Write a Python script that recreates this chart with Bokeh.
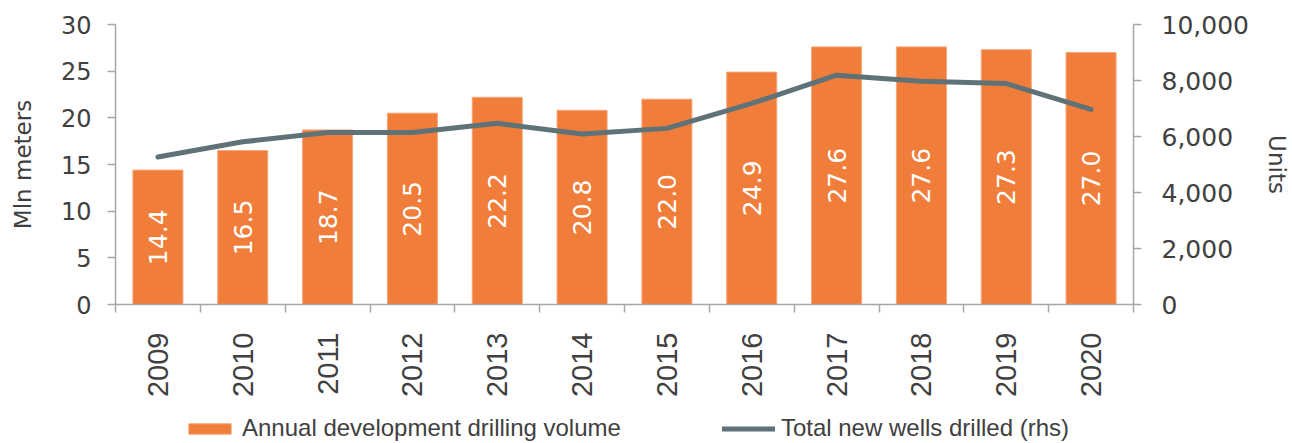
import math
from bokeh.plotting import figure
from bokeh.layouts import column
from bokeh.models import (ColumnDataSource, Range1d, LinearAxis, FixedTicker,
                          NumeralTickFormatter, Legend, LegendItem)
from bokeh.core.properties import value
from bokeh.embed import file_html
from bokeh.resources import INLINE

# ---- data ----
years = ["2009", "2010", "2011", "2012", "2013", "2014",
         "2015", "2016", "2017", "2018", "2019", "2020"]
drilling_mln_m = [14.4, 16.5, 18.7, 20.5, 22.2, 20.8, 22.0, 24.9, 27.6, 27.6, 27.3, 27.0]
new_wells = [5270, 5810, 6140, 6140, 6470, 6090, 6290, 7180, 8190, 7970, 7890, 6970]
left_ticks = [0, 5, 10, 15, 20, 25, 30]
right_ticks = [0, 2000, 4000, 6000, 8000, 10000]
series_names = ["Annual development drilling volume", "Total new wells drilled (rhs)"]

BAR = "#F07D3A"
BAR_EDGE = "#F6A77C"
LINE = "#5F7277"
TXT = "#404040"
AX = "#A6A6A6"

xs = list(range(len(years)))
src = ColumnDataSource(dict(
    x=xs, year=years, drill=drilling_mln_m, wells=new_wells,
    mid=[d / 2 for d in drilling_mln_m],
    lab=[f"{d:.1f}" for d in drilling_mln_m],
))

W, H, LH = 1292, 400, 43
p = figure(width=W, height=H, output_backend="svg", toolbar_location=None,
           x_range=Range1d(-0.5, len(years) - 0.5), y_range=Range1d(0, 30),
           min_border_left=115, min_border_right=W - 1135, min_border_top=24,
           min_border_bottom=H - 305, x_axis_location=None, y_axis_location=None)
p.outline_line_color = None
p.grid.visible = False
p.extra_y_ranges = {"wells": Range1d(0, 10000)}

bars = p.vbar(x="x", top="drill", width=0.59, source=src, fill_color=BAR,
              line_color=BAR_EDGE, line_width=1)
p.text(x="x", y="mid", text="lab", source=src, angle=math.pi / 2,
       text_align="center", text_baseline="middle", text_color="white",
       text_font=value("DejaVu Sans"), text_font_size="25px")
line = p.line(x="x", y="wells", source=src, y_range_name="wells",
              line_color=LINE, line_width=5, line_cap="round", line_join="round")

xaxis = LinearAxis(
    ticker=FixedTicker(ticks=xs, minor_ticks=[i - 0.5 for i in range(len(years) + 1)]),
    major_label_overrides={i: y for i, y in enumerate(years)},
    major_label_orientation=math.pi / 2,
    major_tick_out=0, major_tick_in=0, minor_tick_out=8, minor_tick_in=0,
    major_label_standoff=20,
    axis_line_color=AX, axis_line_width=1.5, minor_tick_line_color=AX,
    minor_tick_line_width=1.5,
    major_label_text_font="Liberation Sans", major_label_text_font_size="29px",
    major_label_text_color=TXT)
p.add_layout(xaxis, "below")

laxis = LinearAxis(
    ticker=FixedTicker(ticks=left_ticks), axis_label="Mln meters",
    major_tick_out=8, major_tick_in=0, minor_tick_line_color=None,
    major_label_standoff=16, axis_label_standoff=22,
    axis_line_color=AX, axis_line_width=1.5, major_tick_line_color=AX,
    major_tick_line_width=1.5,
    major_label_text_font="DejaVu Sans", major_label_text_font_size="24px",
    major_label_text_color=TXT,
    axis_label_text_font="DejaVu Sans", axis_label_text_font_size="23px",
    axis_label_text_font_style="normal", axis_label_text_color=TXT)
p.add_layout(laxis, "left")

raxis = LinearAxis(
    y_range_name="wells", ticker=FixedTicker(ticks=right_ticks),
    formatter=NumeralTickFormatter(format="0,0"), axis_label="Units",
    major_tick_out=8, major_tick_in=0, minor_tick_line_color=None,
    major_label_standoff=20, axis_label_standoff=12,
    axis_line_color=AX, axis_line_width=1.5, major_tick_line_color=AX,
    major_tick_line_width=1.5,
    major_label_text_font="DejaVu Sans", major_label_text_font_size="25px",
    major_label_text_color=TXT,
    axis_label_text_font="DejaVu Sans", axis_label_text_font_size="23px",
    axis_label_text_font_style="normal", axis_label_text_color=TXT)
p.add_layout(raxis, "right")

# ---- legend strip: a second figure whose own copies of the series stay
# out of its view, so only the legend shows ----
q = figure(width=W, height=LH, output_backend="svg", toolbar_location=None,
           x_range=Range1d(1000, 1001), y_range=Range1d(1000, 1001),
           min_border=0, x_axis_location=None, y_axis_location=None)
q.outline_line_color = None
q.grid.visible = False
lbar = q.vbar(x="x", top="drill", width=0.59, source=src, fill_color=BAR,
              line_color=BAR_EDGE, line_width=1)
lline = q.line(x="x", y="wells", source=src, line_color=LINE, line_width=5,
               line_cap="round")
legend = Legend(
    items=[LegendItem(label=series_names[0], renderers=[lbar]),
           LegendItem(label=series_names[1], renderers=[lline])],
    orientation="horizontal", location=(68, 1),
    glyph_width=53, glyph_height=13, label_standoff=6, spacing=101,
    padding=0, margin=0, border_line_color=None, background_fill_alpha=0,
    label_text_font="Liberation Sans", label_text_font_size="24px",
    label_text_color=TXT)
q.add_layout(legend, "center")

open("out.html", "w").write(file_html(column(p, q, spacing=0), INLINE))
